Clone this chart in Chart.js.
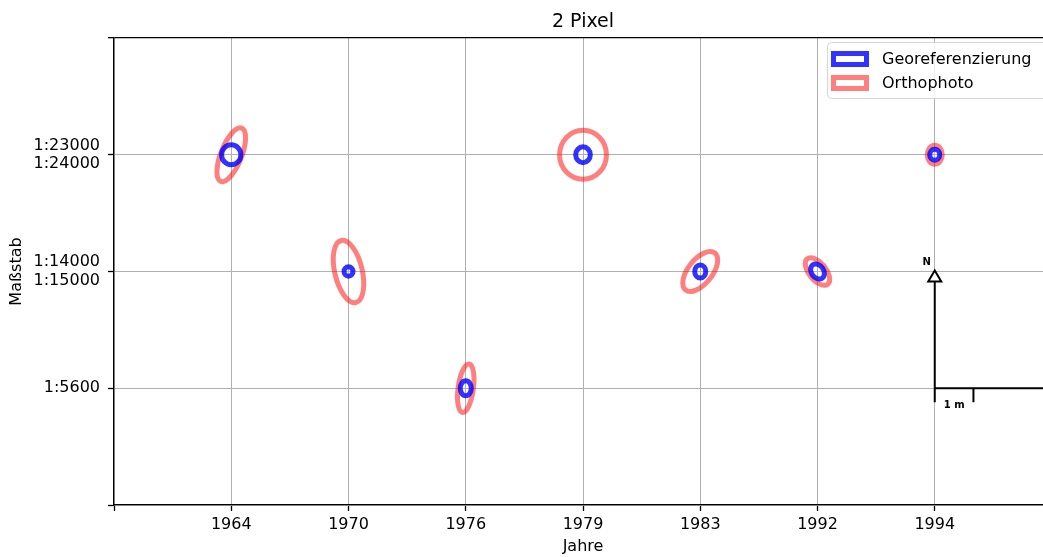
<!DOCTYPE html>
<html><head><meta charset="utf-8">
<style>html,body{margin:0;padding:0;overflow:hidden;background:#fff;width:1043px;height:557px}</style>
<script src="https://cdn.jsdelivr.net/npm/chart.js@4/dist/chart.umd.min.js"></script>
</head><body>
<canvas id="c" width="1056" height="557" style="display:block;width:1056px;height:557px"></canvas>
<script>
// ---- data ----
const categories = ['', '1964', '1970', '1976', '1979', '1983', '1992', '1994', ''];
const scaleTickLabels = ['', '1:5600', ['1:14000', '1:15000'], ['1:23000', '1:24000'], ''];
const yearPos = [1, 2, 3, 4, 5, 6, 7];
const scalePos = [3, 2, 1, 3, 2, 2, 3];
// ellipse sizes (data units) and angle (deg, counter-clockwise)
const geoWidth  = [0.165, 0.077, 0.094, 0.125, 0.094, 0.105, 0.085];
const geoHeight = [0.172, 0.080, 0.128, 0.135, 0.110, 0.140, 0.094];
const geoAngle  = [0, 0, 0, 0, 0, 35, 0];
const orthoWidth  = [0.178, 0.234, 0.130, 0.400, 0.207, 0.145, 0.128];
const orthoHeight = [0.490, 0.546, 0.418, 0.420, 0.404, 0.280, 0.162];
const orthoAngle  = [-21.6, 13.4, -7.8, 0, -38.4, 39, 0];
const seriesNames = ['Georeferenzierung', 'Orthophoto'];

const FONT = 'DejaVu Sans';
Chart.defaults.font.family = FONT;
Chart.defaults.font.size = 16;
Chart.defaults.color = '#000';

const BLUE = 'rgba(0,0,255,0.8)';
const RED = 'rgba(255,0,0,0.5)';

function drawEllipses(chart, dsIndex, widths, heights, angles) {
  const {ctx, scales: {x, y}} = chart;
  const ds = chart.data.datasets[dsIndex];
  const pxX = Math.abs(x.getPixelForValue(1) - x.getPixelForValue(0));
  const pxY = Math.abs(y.getPixelForValue(1) - y.getPixelForValue(0));
  ds.data.forEach((p, i) => {
    const cx = x.getPixelForValue(p.x), cy = y.getPixelForValue(p.y);
    ctx.save();
    ctx.beginPath();
    ctx.ellipse(cx, cy, widths[i] / 2 * pxX, heights[i] / 2 * pxY, -angles[i] * Math.PI / 180, 0, 2 * Math.PI);
    ctx.strokeStyle = ds.borderColor;
    ctx.lineWidth = ds.borderWidth;
    ctx.stroke();
    ctx.restore();
  });
}

const extras = {
  id: 'extras',
  afterDatasetsDraw(chart) {
    const {ctx, scales: {x, y}, chartArea} = chart;
    drawEllipses(chart, 1, orthoWidth, orthoHeight, orthoAngle);
    drawEllipses(chart, 0, geoWidth, geoHeight, geoAngle);

    // north arrow + scale bar
    const nx = x.getPixelForValue(7);
    const base = y.getPixelForValue(1);
    const tip = y.getPixelForValue(2);
    const low = y.getPixelForValue(0.88);
    const tickX = x.getPixelForValue(7.33);
    ctx.save();
    ctx.strokeStyle = '#000';
    ctx.lineWidth = 2;
    ctx.beginPath();
    ctx.moveTo(nx, low); ctx.lineTo(nx, tip + 10);
    ctx.moveTo(nx, base); ctx.lineTo(chartArea.right + 5, base);
    ctx.moveTo(tickX, base); ctx.lineTo(tickX, low);
    ctx.stroke();
    ctx.beginPath();
    ctx.moveTo(nx, tip - 1); ctx.lineTo(nx - 6.5, tip + 10); ctx.lineTo(nx + 6.5, tip + 10); ctx.closePath();
    ctx.fillStyle = '#fff'; ctx.fill(); ctx.stroke();
    ctx.fillStyle = '#000';
    ctx.font = 'bold 10px ' + FONT;
    ctx.textAlign = 'center'; ctx.textBaseline = 'middle';
    ctx.fillText('N', nx - 8, tip - 9);
    ctx.textAlign = 'left';
    ctx.fillText('1 m', nx + 9, low + 3);
    ctx.restore();

    // legend
    ctx.save();
    const lx = 827, ly = 42, lw = 260, lh = 56;
    ctx.beginPath();
    ctx.roundRect(lx + 0.5, ly + 0.5, lw, lh, 4);
    ctx.fillStyle = 'rgba(255,255,255,0.8)';
    ctx.fill();
    ctx.strokeStyle = 'rgba(204,204,204,0.8)';
    ctx.lineWidth = 1;
    ctx.stroke();
    const cols = [BLUE, RED];
    ctx.font = '16px ' + FONT;
    ctx.textBaseline = 'middle';
    ctx.textAlign = 'left';
    for (let i = 0; i < 2; i++) {
      const ry = 53.5 + i * 24;
      ctx.strokeStyle = cols[i];
      ctx.lineWidth = 5;
      ctx.strokeRect(833.5, ry, 33, 11);
      ctx.fillStyle = '#000';
      ctx.fillText(seriesNames[i], 882, ry + 6);
    }
    ctx.restore();

    // titles
    ctx.save();
    ctx.fillStyle = '#000';
    const mid = (chartArea.left + chartArea.right) / 2;
    ctx.textAlign = 'center';
    ctx.textBaseline = 'alphabetic';
    ctx.font = '19px ' + FONT;
    ctx.fillText('2 Pixel', mid, 27);
    ctx.font = '16px ' + FONT;
    ctx.textBaseline = 'middle';
    ctx.fillText('Jahre', mid, 547);
    ctx.translate(17, (chartArea.top + chartArea.bottom) / 2);
    ctx.rotate(-Math.PI / 2);
    ctx.fillText('Maßstab', 0, 0);
    ctx.restore();
  }
};

const points = yearPos.map((v, i) => ({x: v, y: scalePos[i]}));

new Chart(document.getElementById('c'), {
  type: 'scatter',
  data: {
    datasets: [
      {label: seriesNames[0], data: points, borderColor: BLUE, borderWidth: 5, pointRadius: 0},
      {label: seriesNames[1], data: points, borderColor: RED, borderWidth: 5, pointRadius: 0}
    ]
  },
  options: {
    responsive: false,
    animation: false,
    events: [],
    layout: {padding: {top: 38, left: 0, right: 0, bottom: 0}},
    plugins: {legend: {display: false}, tooltip: {enabled: false}, title: {display: false}},
    scales: {
      x: {
        type: 'linear', min: 0, max: 8,
        afterFit(s) { s.height = 52; },
        ticks: {stepSize: 1, autoSkip: false, maxRotation: 0, padding: 4, color: '#000',
          callback: (v) => categories[v] ?? ''},
        grid: {color: '#b0b0b0', lineWidth: 1, drawTicks: true, tickLength: 6, tickColor: '#000', tickWidth: 1.3},
        border: {display: true, color: '#000', width: 1.3}
      },
      y: {
        type: 'linear', min: 0, max: 4,
        afterFit(s) { s.width = 114; },
        ticks: {stepSize: 1, autoSkip: false, padding: 8, color: '#000',
          font: {lineHeight: 1.15},
          callback: (v) => scaleTickLabels[v] ?? ''},
        grid: {
          color: (c) => (c.tick && c.tick.value === 4) ? '#000' : '#b0b0b0',
          lineWidth: (c) => (c.tick && c.tick.value === 4) ? 1.3 : 1,
          drawTicks: true, tickLength: 6, tickColor: '#000', tickWidth: 1.3
        },
        border: {display: true, color: '#000', width: 1.3}
      }
    }
  },
  plugins: [extras]
});
</script>
</body></html>
